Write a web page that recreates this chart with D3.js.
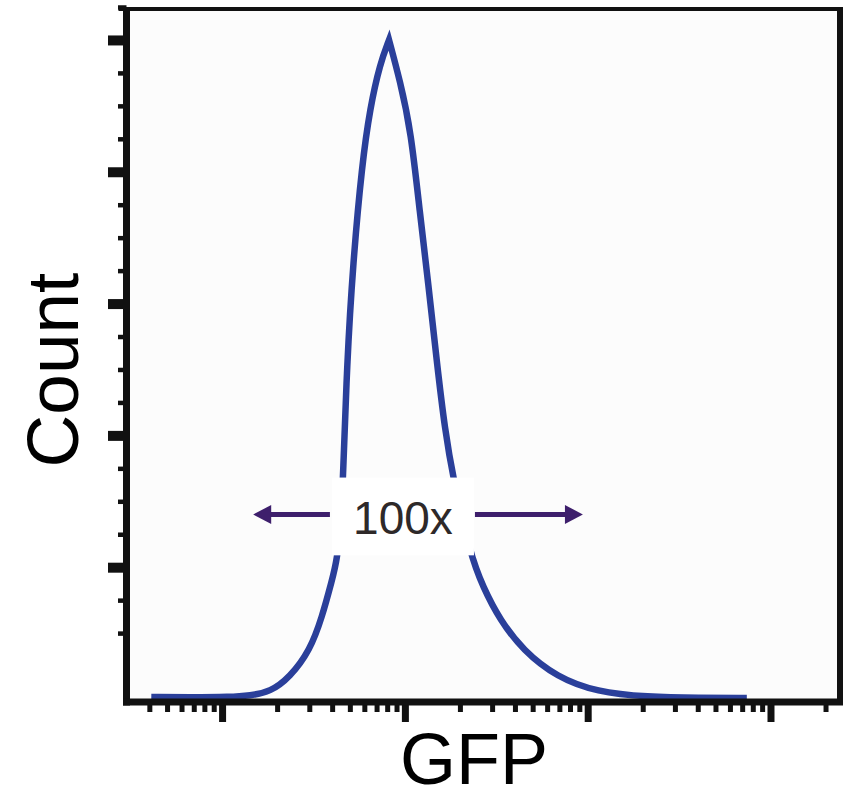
<!DOCTYPE html>
<html>
<head>
<meta charset="utf-8">
<script src="https://cdn.jsdelivr.net/npm/d3@7"></script>
<style>
  html, body { margin: 0; padding: 0; background: #ffffff; }
  svg { display: block; font-family: "Liberation Sans", Arial, Helvetica, sans-serif; }
</style>
</head>
<body>
<svg id="chart" width="855" height="791"></svg>
<script>
// ---- data ----
const gfpValues   = [41, 67, 111, 142, 183, 235, 303, 352, 399, 426, 447, 459, 482, 520, 583, 645, 731, 819,
                     940, 1080, 1209, 1338, 1498, 1657, 1832, 2270, 2673, 3311, 4423, 6786, 11230, 21070, 41060, 74220];
const countValues = [3, 2.3, 3, 5.3, 10.6, 33, 74, 124, 180, 211, 271, 336, 509, 661, 812, 897, 964, 1000,
                     938, 862, 736, 635, 509, 408, 336, 221, 170, 120, 74, 33, 10.6, 3, 1.5, 1.5];
const peakIndex = 17;
const xMajorTicks = [1e2, 1e3, 1e4, 1e5];
const yMajorTicks = [200, 400, 600, 800, 1000];
const yMinorTicks = [100, 150, 250, 300, 350, 450, 500, 550, 650, 700, 750, 850, 900, 950, 1050];
const xDomain = [30, 240000];
const yDomain = [0, 1050];
const xLabel = "GFP";
const yLabel = "Count";
const foldLabel = "100x";
const foldBox = { x0: 399, x1: 2387, y0: 218, y1: 336 };
const foldLabelPos = { x: 976, y: 251 };
const arrowsData = [ { from: 389, to: 148, y: 280 }, { from: 2417, to: 9415, y: 280 } ];

// ---- layout ----
const svg = d3.select("#chart");
const L = 126.5, R = 840, T = 7, B = 699, AX = 702;

const x = d3.scaleLog().domain(xDomain).range([L, R]);
const y = d3.scaleLinear().domain(yDomain).range([B, T]);

// plot background
svg.append("rect").attr("x", L).attr("y", T).attr("width", R - L).attr("height", AX - T)
  .attr("fill", "#fcfcfc");

// curve: two smooth halves joined at the sharp peak
const pts = gfpValues.map((v, i) => [v, countValues[i]]);
const lineGen = d3.line().x(d => x(d[0])).y(d => y(d[1])).curve(d3.curveBasis);
const leftD = lineGen(pts.slice(0, peakIndex + 1));
const rightD = lineGen(pts.slice(peakIndex)).replace(/^M/, "L");
svg.append("path").attr("d", leftD + rightD)
  .attr("fill", "none").attr("stroke", "#2a3f9a").attr("stroke-width", 6.5)
  .attr("stroke-linejoin", "miter").attr("stroke-miterlimit", 10);

// label box
svg.append("rect")
  .attr("x", x(foldBox.x0)).attr("y", y(foldBox.y1))
  .attr("width", x(foldBox.x1) - x(foldBox.x0)).attr("height", y(foldBox.y0) - y(foldBox.y1))
  .attr("fill", "#ffffff");
svg.append("text").attr("x", x(foldLabelPos.x)).attr("y", y(foldLabelPos.y))
  .attr("text-anchor", "middle").attr("font-size", 46).attr("fill", "#2e2929")
  .text(foldLabel);

// arrows
const arrowColor = "#3e1f6c";
arrowsData.forEach(a => {
  const x0 = x(a.from), x1 = x(a.to), yy = y(a.y);
  const dir = Math.sign(x1 - x0);
  const headLen = 18, headHalf = 9.5;
  svg.append("line").attr("x1", x0).attr("x2", x1 - dir * headLen * 0.8)
    .attr("y1", yy).attr("y2", yy).attr("stroke", arrowColor).attr("stroke-width", 5);
  svg.append("path")
    .attr("d", `M${x1},${yy} L${x1 - dir * headLen},${yy - headHalf} L${x1 - dir * headLen},${yy + headHalf} Z`)
    .attr("fill", arrowColor);
});

// axes
const axisColor = "#111111";
function styleAxis(g, tickW) {
  g.select(".domain").remove();
  g.selectAll(".tick line").attr("stroke", axisColor).attr("stroke-width", tickW);
  g.selectAll(".tick text").remove();
}
// x minor
const xMinor = [];
for (let e = 1; e <= 5; e++) for (let m = 2; m <= 9; m++) {
  const v = m * Math.pow(10, e);
  if (v > xDomain[0] && v < xDomain[1]) xMinor.push(v);
}
const gxMinor = svg.append("g").attr("transform", `translate(0,${AX})`)
  .call(d3.axisBottom(x).tickValues(xMinor).tickSize(10).tickSizeOuter(0).tickFormat(""));
styleAxis(gxMinor, 5);
const gxMajor = svg.append("g").attr("transform", `translate(0,${AX})`)
  .call(d3.axisBottom(x).tickValues(xMajorTicks).tickSize(20).tickSizeOuter(0).tickFormat(""));
styleAxis(gxMajor, 7);

const gyMinor = svg.append("g").attr("transform", `translate(${L},0)`)
  .call(d3.axisLeft(y).tickValues(yMinorTicks).tickSize(8.5).tickSizeOuter(0).tickFormat(""));
styleAxis(gyMinor, 4.5);
const gyMajor = svg.append("g").attr("transform", `translate(${L},0)`)
  .call(d3.axisLeft(y).tickValues(yMajorTicks).tickSize(18.5).tickSizeOuter(0).tickFormat(""));
styleAxis(gyMajor, 10);

// frame lines
svg.append("line").attr("x1", L).attr("x2", L).attr("y1", T).attr("y2", AX + 3.5)
  .attr("stroke", axisColor).attr("stroke-width", 7);
svg.append("line").attr("x1", L - 3.5).attr("x2", R + 3).attr("y1", AX).attr("y2", AX)
  .attr("stroke", axisColor).attr("stroke-width", 7);
svg.append("line").attr("x1", L - 8).attr("x2", R + 3).attr("y1", T + 2).attr("y2", T + 2)
  .attr("stroke", axisColor).attr("stroke-width", 4);
svg.append("line").attr("x1", R).attr("x2", R).attr("y1", T).attr("y2", AX)
  .attr("stroke", axisColor).attr("stroke-width", 6);

// axis titles
svg.append("text").attr("transform", `translate(78,370) rotate(-90)`)
  .attr("text-anchor", "middle").attr("font-size", 73).attr("fill", "#000").text(yLabel);
svg.append("text").attr("x", 474).attr("y", 784)
  .attr("text-anchor", "middle").attr("font-size", 72).attr("fill", "#000").text(xLabel);
</script>
</body>
</html>
